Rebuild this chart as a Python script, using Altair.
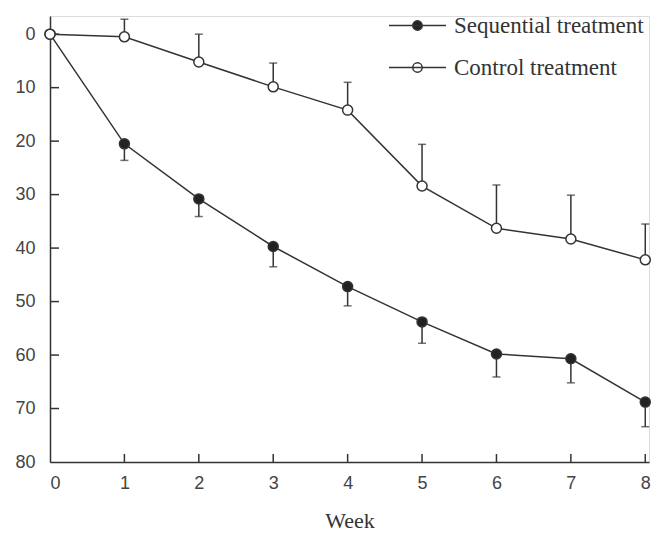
import altair as alt
import pandas as pd

weeks = [0, 1, 2, 3, 4, 5, 6, 7, 8]
seq_mean = [0, 20.5, 30.8, 39.7, 47.2, 53.8, 59.8, 60.7, 68.8]
seq_err = [0, 3.1, 3.3, 3.8, 3.6, 4.0, 4.3, 4.5, 4.6]
ctrl_mean = [0, 0.5, 5.2, 9.85, 14.2, 28.4, 36.3, 38.3, 42.2]
ctrl_err = [0, 3.3, 5.2, 4.45, 5.2, 7.8, 8.1, 8.2, 6.7]
series_names = ["Sequential treatment", "Control treatment"]
y_ticks = [0, 10, 20, 30, 40, 50, 60, 70, 80]
x_ticks = [0, 1, 2, 3, 4, 5, 6, 7, 8]

rows = []
for i, w in enumerate(weeks):
    rows.append({"week": w, "series": series_names[0], "v": seq_mean[i],
                 "e": seq_mean[i] + seq_err[i], "has_err": seq_err[i] > 0})
    rows.append({"week": w, "series": series_names[1], "v": ctrl_mean[i],
                 "e": ctrl_mean[i] - ctrl_err[i], "has_err": ctrl_err[i] > 0})
df = pd.DataFrame(rows)
err_df = df[df["has_err"]]

INK = "#333333"
xscale = alt.Scale(domain=[0, 8.05], nice=False)
yscale = alt.Scale(domain=[-3.4, 80], nice=False, reverse=True, zero=False)
fill_scale = alt.Scale(domain=series_names, range=["#222222", "#ffffff"])

x_axis = alt.Axis(values=x_ticks, format="d", ticks=False, tickSize=0, grid=False,
                  domainColor=INK, domainWidth=1.5, labelFont="Liberation Sans",
                  labelFontSize=18, labelColor="#444444", labelPadding=12, title="Week",
                  titleFont="Liberation Serif", titleFontSize=22, titleFontWeight="normal",
                  titleColor="#333333", titlePadding=18)
y_axis = alt.Axis(values=y_ticks, format="d", ticks=False, tickSize=0, grid=False,
                  domainColor=INK, domainWidth=1.5, labelFont="Liberation Sans",
                  labelFontSize=18, labelColor="#444444", labelPadding=15, title=None)

base = alt.Chart(df)

lines = base.mark_line(color=INK, strokeWidth=1.5).encode(
    x=alt.X("week:Q", scale=xscale, axis=x_axis),
    y=alt.Y("v:Q", scale=yscale, axis=y_axis),
    detail="series:N",
)

err_rules = alt.Chart(err_df).mark_rule(color=INK, strokeWidth=1.5).encode(
    x="week:Q", y="v:Q", y2="e:Q")
err_caps = alt.Chart(err_df).mark_tick(color=INK, thickness=1.5, size=8,
                                        orient="horizontal").encode(
    x="week:Q", y="e:Q")

legend_path = ("M-1.39,0H1.39 M-0.23,0A0.23,0.23 0 1,1 0.23,0"
               "A0.23,0.23 0 1,1 -0.23,0Z")
points = base.mark_point(filled=False, shape="circle", size=100, stroke=INK,
                         strokeWidth=1.5, opacity=1).encode(
    x="week:Q", y="v:Q",
    fill=alt.Fill("series:N", scale=fill_scale, sort=series_names,
                  legend=alt.Legend(title=None, orient="none", legendX=346, legendY=-12,
                                    symbolType=legend_path, symbolSize=1681,
                                    symbolStrokeColor=INK, symbolStrokeWidth=1.5,
                                    labelFont="Liberation Serif", labelFontSize=23,
                                    labelColor="#333333", labelOffset=15,
                                    rowPadding=8, padding=0, labelLimit=400)),
)

tick_df_y = pd.DataFrame({"t": y_ticks[:-1]})
y_inner_ticks = alt.Chart(tick_df_y).mark_rule(color=INK, strokeWidth=1.5).encode(
    y=alt.Y("t:Q", scale=yscale), x=alt.value(0), x2=alt.value(9))
tick_df_x = pd.DataFrame({"t": x_ticks[1:]})
x_inner_ticks = alt.Chart(tick_df_x).mark_rule(color=INK, strokeWidth=1.5).encode(
    x=alt.X("t:Q", scale=xscale), y=alt.value(446), y2=alt.value(438))

chart = alt.layer(y_inner_ticks, x_inner_ticks, err_rules, err_caps, lines, points).properties(
    width=599, height=446,
    autosize=alt.AutoSizeParams(type="none"),
    padding={"left": 42, "top": 8, "right": 4, "bottom": 70},
).configure_view(stroke=None).configure(background="#ffffff")

chart.save("out.html", embed_options={"renderer": "svg", "actions": False})
